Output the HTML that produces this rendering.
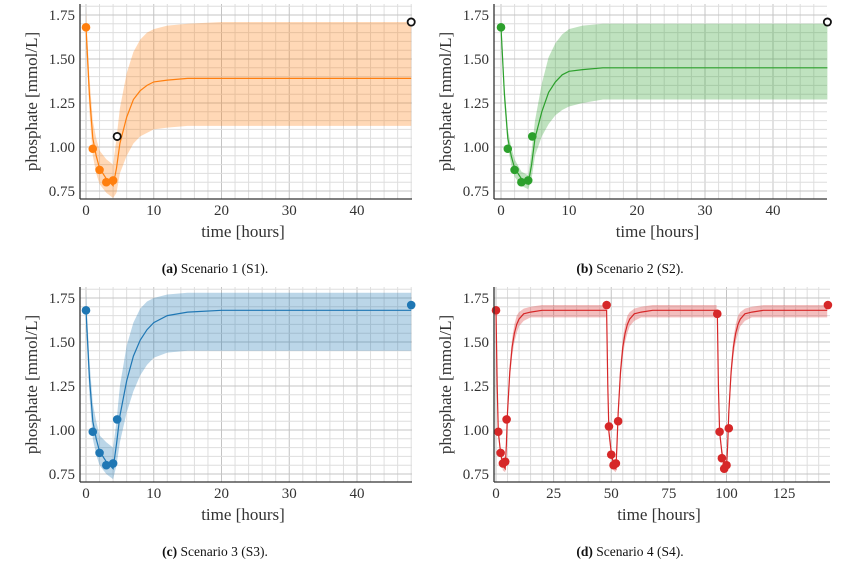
<!DOCTYPE html>
<html><head><meta charset="utf-8"><style>
html,body{margin:0;padding:0;background:#fff;}
svg{display:block;font-family:"Liberation Serif",serif;}
</style></head><body>
<svg id="fig" width="841" height="568" viewBox="0 0 841 568"></svg>
<script>
// ---- data ----
const tGrid = [0,0.5,1,1.5,2,3,4,4.5,5,6,7,8,9,10,12,15,20,48];
const s1Mean  = [1.68,1.30,1.05,0.95,0.88,0.82,0.78,0.88,1.02,1.17,1.27,1.32,1.35,1.37,1.38,1.39,1.39,1.39];
const s1Upper = [1.77,1.40,1.15,1.05,0.98,0.93,0.90,1.05,1.22,1.42,1.54,1.61,1.65,1.67,1.69,1.70,1.71,1.71];
const s1Lower = [1.60,1.20,0.95,0.85,0.79,0.74,0.71,0.74,0.85,0.95,1.02,1.06,1.08,1.10,1.11,1.12,1.12,1.12];
const s2Mean  = [1.68,1.30,1.05,0.95,0.88,0.82,0.79,0.90,1.05,1.20,1.31,1.37,1.41,1.43,1.44,1.45,1.45,1.45];
const s2Upper = [1.73,1.36,1.10,1.00,0.93,0.86,0.84,0.98,1.15,1.36,1.51,1.59,1.64,1.67,1.69,1.70,1.70,1.70];
const s2Lower = [1.64,1.24,1.00,0.90,0.83,0.78,0.76,0.82,0.95,1.06,1.13,1.18,1.21,1.23,1.25,1.27,1.27,1.27];
const s3Mean  = [1.68,1.30,1.05,0.95,0.88,0.82,0.78,0.92,1.08,1.28,1.42,1.51,1.57,1.61,1.65,1.67,1.68,1.68];
const s3Upper = [1.78,1.40,1.15,1.05,0.97,0.93,0.90,1.05,1.25,1.48,1.61,1.69,1.73,1.75,1.77,1.78,1.78,1.78];
const s3Lower = [1.60,1.20,0.95,0.86,0.80,0.75,0.72,0.80,0.93,1.10,1.22,1.31,1.37,1.41,1.44,1.45,1.45,1.45];
const s4CycleT = [0,0.5,1,2,3,4,4.5,5,6,7,8,9,10,12,15,20,47.7];
const s4Mean  = [1.68,1.25,0.99,0.87,0.80,0.78,0.92,1.10,1.33,1.47,1.55,1.60,1.63,1.66,1.67,1.68,1.68];
const s4Upper = [1.70,1.28,1.02,0.90,0.83,0.80,0.96,1.15,1.38,1.52,1.60,1.65,1.67,1.69,1.70,1.71,1.71];
const s4Lower = [1.66,1.22,0.96,0.84,0.77,0.76,0.88,1.05,1.28,1.42,1.50,1.55,1.59,1.62,1.64,1.64,1.64];
const s4Offsets = [0,48,96];
const obsT = [0,1,2,3,4,4.6,48];
const s1Obs = [1.68,0.99,0.87,0.80,0.81,1.06,1.71];
const s1Open = [false,false,false,false,false,true,true];
const s2Obs = [1.68,0.99,0.87,0.80,0.81,1.06,1.71];
const s2Open = [false,false,false,false,false,false,true];
const s3Obs = [1.68,0.99,0.87,0.80,0.81,1.06,1.71];
const s3Open = [false,false,false,false,false,false,false];
const s4ObsT = [0,1,2,3,4,4.6,48,49,50,51,52,53,96,97,98,99,100,101,144];
const s4Obs = [1.68,0.99,0.87,0.81,0.82,1.06,1.71,1.02,0.86,0.80,0.81,1.05,1.66,0.99,0.84,0.78,0.80,1.01,1.71];
const yTicks = [0.75,1.00,1.25,1.50,1.75];
const xTicksA = [0,10,20,30,40];
const xTicksD = [0,25,50,75,100,125];

const NS="http://www.w3.org/2000/svg";
const svg=document.getElementById('fig');
function mk(tag,attrs,parent){const e=document.createElementNS(NS,tag);for(const k in attrs)e.setAttribute(k,attrs[k]);(parent||svg).appendChild(e);return e;}

function panel(cfg){
  const g=mk('g',{});
  
  
  const L=cfg.left,R=cfg.right,T=cfg.top,B=cfg.bottom;
  const xs=t=>cfg.x0+t*cfg.kx;
  const ys=v=>cfg.y175+(1.75-v)*176;
  // grid
  for(let t=0;t<=cfg.xmax+0.01;t+=cfg.minorX){
    const x=xs(t);if(x>R)break;
    const major=Math.abs(t/cfg.majorX-Math.round(t/cfg.majorX))<1e-6;
    const l=mk('line',{x1:x,x2:x,y1:T,y2:B,stroke:major?'#c4c4c4':'#dedede','stroke-width':1},g);
    
    
  }
  for(let v=0.70;v<=1.82;v+=0.05){
    const y=ys(v);if(y<T||y>B)continue;
    const major=Math.abs(v/0.25-Math.round(v/0.25))<1e-6;
    const l=mk('line',{x1:L,x2:R,y1:y,y2:y,stroke:major?'#c4c4c4':'#dedede','stroke-width':1},g);
    
    
  }
  // bands and means
  cfg.segments.forEach(seg=>{
    let up='',lo='';
    seg.t.forEach((t,i)=>{up+=(i?'L':'M')+xs(t+seg.off).toFixed(1)+','+ys(seg.u[i]).toFixed(1);});
    for(let i=seg.t.length-1;i>=0;i--)lo+='L'+xs(seg.t[i]+seg.off).toFixed(1)+','+ys(seg.l[i]).toFixed(1);
    const b=mk('path',{d:up+lo+'Z',fill:cfg.color,'fill-opacity':0.3,stroke:'none'},g);
    
    
  });
  let md='';
  cfg.segments.forEach((seg,si)=>{
    seg.t.forEach((t,i)=>{md+=((si===0&&i===0)?'M':'L')+xs(t+seg.off).toFixed(1)+','+ys(seg.m[i]).toFixed(1);});
  });
  const ml=mk('path',{d:md,fill:'none',stroke:cfg.color,'stroke-width':1.2},g);
  
  
  // observations
  cfg.obsT.forEach((t,i)=>{
    const open=cfg.open?cfg.open[i]:false;
    const c=mk('circle',{cx:xs(t),cy:ys(cfg.obs[i]),r:open?3.6:4.3,
      fill:open?'#fff':cfg.color,stroke:open?'#111':'none','stroke-width':open?1.8:0},g);
    
    
  });
  // spines
  mk('line',{x1:L,x2:L,y1:T,y2:B,stroke:'#333','stroke-width':1.3},g);
  mk('line',{x1:L,x2:R,y1:B,y2:B,stroke:'#333','stroke-width':1.3},g);
  // ticks labels
  yTicks.forEach(v=>{
    const tx=mk('text',{x:L-5,y:ys(v)+5,'text-anchor':'end','font-size':15,fill:'#333'},g);
    tx.textContent=v.toFixed(2);
    
    
  });
  cfg.xTicks.forEach(t=>{
    const tx=mk('text',{x:xs(t),y:B+16,'text-anchor':'middle','font-size':15,fill:'#333'},g);
    tx.textContent=t;
    
    
  });
  const xl=mk('text',{x:(L+R)/2-3,y:B+38,'text-anchor':'middle','font-size':17,fill:'#333'},g);
  xl.textContent='time [hours]';
  
  
  const yl=mk('text',{x:0,y:0,'text-anchor':'middle','font-size':17,fill:'#333',transform:`translate(${L-43},${(T+B)/2}) rotate(-90)`},g);
  yl.textContent='phosphate [mmol/L]';
  
  
  const cap=mk('text',{x:cfg.capX,y:B+74,'text-anchor':'middle','font-size':13.5,fill:'#111'},g);
  
  
  const b1=mk('tspan',{'font-weight':'bold'},cap);b1.textContent=cfg.capBold;
  const b2=mk('tspan',{},cap);b2.textContent=cfg.capText;
}
const single=(m,u,l)=>[{t:tGrid,m:m,u:u,l:l,off:0}];
panel({name:'panel-a-scenario-1',left:80,right:412,top:4,bottom:199,x0:86,kx:6.775,y175:15,xmax:48,minorX:2,majorX:10,
  xTicks:xTicksA,color:'#ff7f0e',segments:single(s1Mean,s1Upper,s1Lower),obsT:obsT,obs:s1Obs,open:s1Open,
  capX:215,capBold:'(a)',capText:' Scenario 1 (S1).'});
panel({name:'panel-b-scenario-2',left:494,right:827,top:4,bottom:199,x0:501,kx:6.8,y175:15,xmax:48,minorX:2,majorX:10,
  xTicks:xTicksA,color:'#2ca02c',segments:single(s2Mean,s2Upper,s2Lower),obsT:obsT,obs:s2Obs,open:s2Open,
  capX:630,capBold:'(b)',capText:' Scenario 2 (S2).'});
panel({name:'panel-c-scenario-3',left:80,right:412,top:287,bottom:482,x0:86,kx:6.775,y175:298,xmax:48,minorX:2,majorX:10,
  xTicks:xTicksA,color:'#1f77b4',segments:single(s3Mean,s3Upper,s3Lower),obsT:obsT,obs:s3Obs,open:s3Open,
  capX:215,capBold:'(c)',capText:' Scenario 3 (S3).'});
panel({name:'panel-d-scenario-4',left:494,right:830,top:287,bottom:482,x0:496,kx:2.305,y175:298,xmax:144,minorX:5,majorX:25,
  xTicks:xTicksD,color:'#d62728',segments:s4Offsets.map(o=>({t:s4CycleT,m:s4Mean,u:s4Upper,l:s4Lower,off:o})),
  obsT:s4ObsT,obs:s4Obs,open:null,capX:630,capBold:'(d)',capText:' Scenario 4 (S4).'});
</script>
</body></html>
